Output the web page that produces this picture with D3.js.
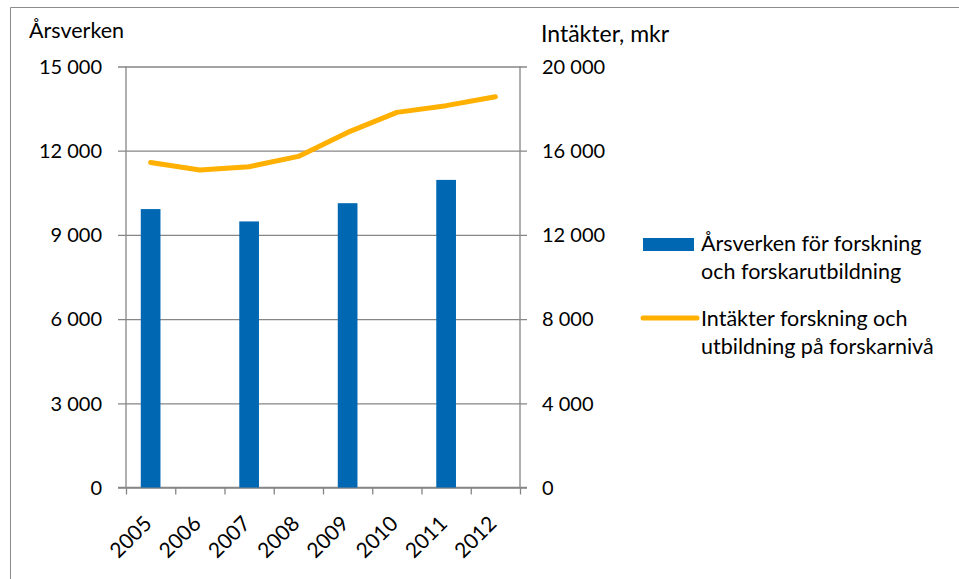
<!DOCTYPE html>
<html>
<head>
<meta charset="utf-8">
<script src="https://cdn.jsdelivr.net/npm/d3@7"></script>
<style>
  body { margin: 0; background: #fff; }
  svg text { font-family: Lato, "Open Sans", sans-serif; fill: #000; }
  .axis .domain, .axis line { stroke: #868686; stroke-width: 1.3; }
</style>
</head>
<body>
<svg width="959" height="579"></svg>
<script>
// data
const years = ["2005", "2006", "2007", "2008", "2009", "2010", "2011", "2012"];
const arsverken = [9920, null, 9480, null, 10130, null, 10960, null];
const intakter = [15440, 15080, 15240, 15730, 16870, 17820, 18140, 18560];
const leftTicks = [0, 3000, 6000, 9000, 12000, 15000];
const rightTicks = [0, 4000, 8000, 12000, 16000, 20000];
const legendLabels = [
  ["Årsverken för forskning", "och forskarutbildning"],
  ["Intäkter forskning och", "utbildning på forskarnivå"]
];

const svg = d3.select("svg");
const plot = { left: 126, right: 520, top: 66.5, bottom: 487.5 };
const blue = "#0068b3";
const orange = "#ffb000";

// frame round the whole chart
svg.append("path")
  .attr("d", "M10.5,579 V7.5 H959")
  .attr("fill", "none")
  .attr("stroke", "#8c8c8c")
  .attr("stroke-width", 1);

const x = d3.scaleBand().domain(years).range([plot.left, plot.right]).padding(0);
const xEdges = d3.scaleLinear().domain([0, years.length]).range([plot.left, plot.right]);
const yLeft = d3.scaleLinear().domain([0, 15000]).range([plot.bottom, plot.top]);
const yRight = d3.scaleLinear().domain([0, 20000]).range([plot.bottom, plot.top]);

const fmt = d => d3.format(",")(d).replace(/,/g, " ");

// gridlines, they run a little past both axes
svg.append("g")
  .attr("class", "axis")
  .attr("transform", `translate(${plot.left - 8},0)`)
  .call(d3.axisRight(yLeft).tickValues(leftTicks).tickSize(plot.right - plot.left + 15).tickFormat(""))
  .call(g => g.select(".domain").remove());

// left axis
svg.append("g")
  .attr("class", "axis")
  .attr("transform", `translate(${plot.left},0)`)
  .call(d3.axisLeft(yLeft).tickValues(leftTicks).tickSize(0).tickPadding(24).tickFormat(fmt))
  .call(g => g.select(".domain").attr("d", `M0,${plot.top}V${plot.bottom}`))
  .call(g => g.selectAll("text").attr("font-size", 20).attr("dy", "0.34em"));

// right axis
svg.append("g")
  .attr("class", "axis")
  .attr("transform", `translate(${plot.right},0)`)
  .call(d3.axisRight(yRight).tickValues(rightTicks).tickSize(0).tickPadding(22).tickFormat(fmt))
  .call(g => g.select(".domain").attr("d", `M0,${plot.top}V${plot.bottom}`))
  .call(g => g.selectAll("text").attr("font-size", 20).attr("dy", "0.34em"));

// x axis: tick marks on category edges
svg.append("g")
  .attr("class", "axis")
  .attr("transform", `translate(0,${plot.bottom})`)
  .call(d3.axisBottom(xEdges).tickValues(d3.range(years.length + 1)).tickSize(7).tickFormat(""))
  .call(g => g.select(".domain").attr("d", `M${plot.left - 8},0H${plot.right + 7}`));

// rotated year labels
svg.append("g")
  .selectAll("text")
  .data(years)
  .join("text")
  .attr("transform", d => `translate(${x(d) + x.bandwidth() / 2 - 8},${plot.bottom + 27}) rotate(-45)`)
  .attr("text-anchor", "end")
  .attr("dy", "0.7em")
  .attr("font-size", 21)
  .text(d => d);

// axis titles
svg.append("text").attr("x", 29).attr("y", 38).attr("font-size", 21.5).text("Årsverken");
svg.append("text").attr("x", 541).attr("y", 42).attr("font-size", 23).text("Intäkter, mkr");

// bars
const barW = x.bandwidth() * 0.4;
svg.append("g")
  .selectAll("rect")
  .data(years.map((d, i) => ({ year: d, value: arsverken[i] })).filter(d => d.value != null))
  .join("rect")
  .attr("x", d => x(d.year) + (x.bandwidth() - barW) / 2)
  .attr("y", d => yLeft(d.value))
  .attr("width", barW)
  .attr("height", d => plot.bottom - yLeft(d.value))
  .attr("fill", blue);

// line
const line = d3.line()
  .x((d, i) => x(years[i]) + x.bandwidth() / 2)
  .y(d => yRight(d));

svg.append("path")
  .datum(intakter)
  .attr("d", line)
  .attr("fill", "none")
  .attr("stroke", orange)
  .attr("stroke-width", 5)
  .attr("stroke-linecap", "round")
  .attr("stroke-linejoin", "round");

// legend
const legend = svg.append("g").attr("transform", "translate(643,0)");
legend.append("rect")
  .attr("x", 0).attr("y", 238).attr("width", 51).attr("height", 13)
  .attr("fill", blue);
legend.append("line")
  .attr("x1", 0).attr("x2", 54).attr("y1", 318).attr("y2", 318)
  .attr("stroke", orange).attr("stroke-width", 5).attr("stroke-linecap", "round");

const legendY = [251, 325.5];
legendLabels.forEach((lines, i) => {
  const t = legend.append("text")
    .attr("x", 58)
    .attr("y", legendY[i])
    .attr("font-size", 21.5);
  lines.forEach((s, j) => {
    t.append("tspan").attr("x", 58).attr("dy", j === 0 ? 0 : 28).text(s);
  });
});
</script>
</body>
</html>
